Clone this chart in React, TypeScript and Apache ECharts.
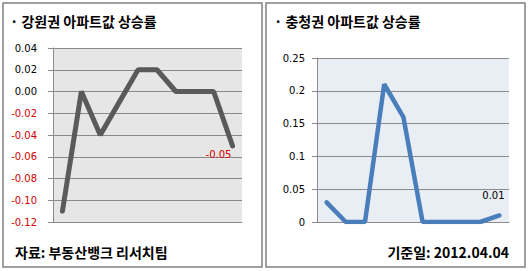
import React, { useEffect, useRef } from "react";
import * as echarts from "echarts";

const categories = ["1", "2", "3", "4", "5", "6", "7", "8", "9", "10"];
const gangwonValues = [-0.11, 0, -0.04, -0.01, 0.02, 0.02, 0, 0, 0, -0.05];
const chungcheongValues = [0.03, 0, 0, 0.21, 0.16, 0, 0, 0, 0, 0.01];
const gangwonTickLabels = ["-0.12", "-0.10", "-0.08", "-0.06", "-0.04", "-0.02", "0.00", "0.02", "0.04"];
const chungcheongTickLabels = ["0", "0.05", "0.1", "0.15", "0.2", "0.25"];
const gangwonLabelIndex = 9;
const chungcheongLabelIndex = 9;
const leftTitle = "· 강원권 아파트값 상승률";
const rightTitle = "· 충청권 아파트값 상승률";
const leftFooter = "자료: 부동산뱅크 리서치팀";
const rightFooter = "기준일: 2012.04.04";

const NUM_FONT = "DejaVu Sans";
const KR_FONT = "'Noto Sans CJK KR', 'Noto Sans', sans-serif";
const RED = "#d40000";
const GRID_LINE = "#8a8a8a";

function lookup(labels: string[], v: number): string {
  const f = labels.find((l) => Math.abs(parseFloat(l) - v) < 1e-9);
  return f !== undefined ? f : String(v);
}

export default function App() {
  const ref = useRef<HTMLDivElement>(null);
  useEffect(() => {
    if (!ref.current) return;
    const chart = echarts.init(ref.current, undefined, { renderer: "svg" });
    const yAxisCommon = {
      type: "value" as const,
      axisLine: { show: true, lineStyle: { color: GRID_LINE, width: 1 } },
      axisTick: { show: true, length: 5, lineStyle: { color: GRID_LINE } },
      splitLine: { show: true, lineStyle: { color: GRID_LINE, width: 1 } },
    };
    const xAxisCommon = {
      type: "category" as const,
      data: categories,
      boundaryGap: true,
      axisLine: { show: true, onZero: false, lineStyle: { color: GRID_LINE, width: 1 } },
      axisTick: { show: false },
      axisLabel: { show: false },
      splitLine: { show: false },
    };
    chart.setOption({
      animation: false,
      backgroundColor: "#ffffff",
      grid: [
        { left: 53, top: 48, width: 189, height: 174, show: true, backgroundColor: "#e6e6e6", borderWidth: 0 },
        { left: 317, top: 58, width: 192, height: 164, show: true, backgroundColor: "#e9edf4", borderWidth: 0 },
      ],
      xAxis: [
        { ...xAxisCommon, gridIndex: 0 },
        { ...xAxisCommon, gridIndex: 1 },
      ],
      yAxis: [
        {
          ...yAxisCommon,
          gridIndex: 0,
          min: -0.12,
          max: 0.04,
          interval: 0.02,
          axisLabel: {
            margin: 16,
            fontFamily: NUM_FONT,
            fontSize: 10,
            formatter: (v: number) => {
              const s = lookup(gangwonTickLabels, v);
              return v < -1e-9 ? `{neg|${s}}` : `{pos|${s}}`;
            },
            rich: {
              neg: { color: RED, fontFamily: NUM_FONT, fontSize: 10 },
              pos: { color: "#000000", fontFamily: NUM_FONT, fontSize: 10 },
            },
          },
        },
        {
          ...yAxisCommon,
          gridIndex: 1,
          min: 0,
          max: 0.25,
          interval: 0.05,
          axisLabel: {
            margin: 12,
            color: "#000000",
            fontFamily: NUM_FONT,
            fontSize: 10,
            formatter: (v: number) => lookup(chungcheongTickLabels, v),
          },
        },
      ],
      series: [
        {
          type: "line",
          xAxisIndex: 0,
          yAxisIndex: 0,
          showSymbol: true,
          symbol: "circle",
          symbolSize: 0,
          itemStyle: { color: "#5a5a5a" },
          lineStyle: { color: "#5a5a5a", width: 5, cap: "round" },
          data: gangwonValues.map((v, i) =>
            i === gangwonLabelIndex
              ? {
                  value: v,
                  label: {
                    show: true,
                    position: "bottom",
                    offset: [-14, -1],
                    color: RED,
                    fontFamily: NUM_FONT,
                    fontSize: 10,
                    formatter: v.toFixed(2),
                  },
                }
              : v
          ),
        },
        {
          type: "line",
          xAxisIndex: 1,
          yAxisIndex: 1,
          showSymbol: true,
          symbol: "circle",
          symbolSize: 0,
          itemStyle: { color: "#4a7ebb" },
          lineStyle: { color: "#4a7ebb", width: 4.5, cap: "round" },
          data: chungcheongValues.map((v, i) =>
            i === chungcheongLabelIndex
              ? {
                  value: v,
                  label: {
                    show: true,
                    position: "top",
                    offset: [-6, -10],
                    color: "#000000",
                    fontFamily: NUM_FONT,
                    fontSize: 10,
                    formatter: v.toFixed(2),
                  },
                }
              : v
          ),
        },
      ],
      graphic: [
        {
          type: "rect",
          shape: { x: 3, y: 3, width: 259, height: 264 },
          style: { fill: "none", stroke: "#808080", lineWidth: 1.5 },
          silent: true,
        },
        {
          type: "rect",
          shape: { x: 266, y: 3, width: 259, height: 264 },
          style: { fill: "none", stroke: "#808080", lineWidth: 1.5 },
          silent: true,
        },
        {
          type: "text",
          x: 10,
          y: 21,
          style: { text: leftTitle, fill: "#000", fontFamily: KR_FONT, fontSize: 14, fontWeight: "bold", verticalAlign: "middle", align: "left" },
        },
        {
          type: "text",
          x: 274,
          y: 21,
          style: { text: rightTitle, fill: "#000", fontFamily: KR_FONT, fontSize: 14, fontWeight: "bold", verticalAlign: "middle", align: "left" },
        },
        {
          type: "text",
          x: 15,
          y: 252,
          style: { text: leftFooter, fill: "#000", fontFamily: KR_FONT, fontSize: 14, fontWeight: "bold", verticalAlign: "middle", align: "left" },
        },
        {
          type: "text",
          x: 509,
          y: 252,
          style: { text: rightFooter, fill: "#000", fontFamily: KR_FONT, fontSize: 14, fontWeight: "bold", verticalAlign: "middle", align: "right" },
        },
      ],
    });
    return () => chart.dispose();
  }, []);
  return (
    <div
      ref={ref}
      style={{ position: "fixed", left: 0, top: 0, width: 529, height: 271, background: "#fff" }}
    />
  );
}
